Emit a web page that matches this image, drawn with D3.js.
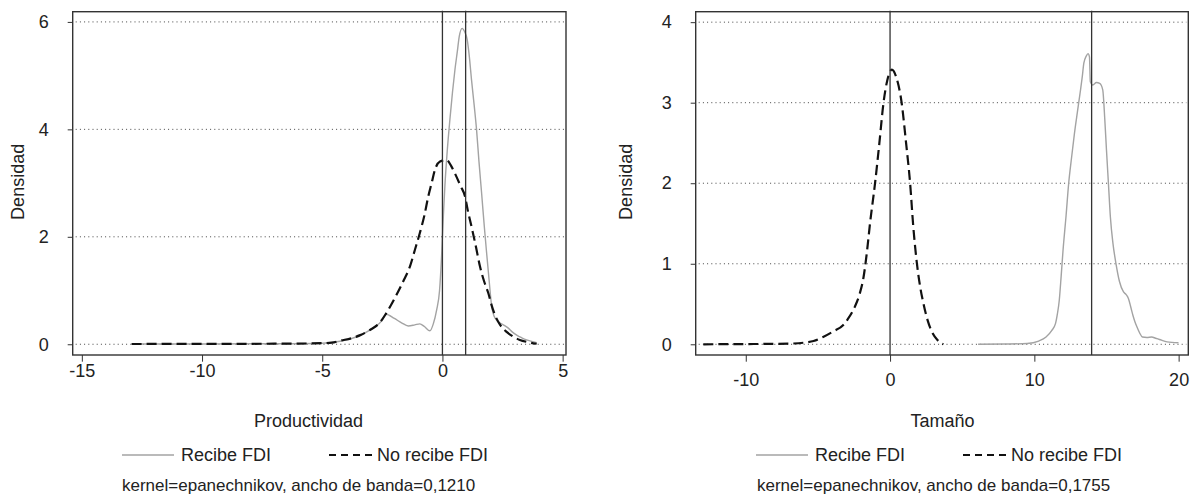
<!DOCTYPE html>
<html>
<head>
<meta charset="utf-8">
<script src="https://cdn.jsdelivr.net/npm/d3@7"></script>
<style>
  html, body { margin: 0; padding: 0; background: #fff; }
  svg { display: block; font-family: "Liberation Sans", Arial, sans-serif; }
</style>
</head>
<body>
<svg id="chart" width="1194" height="495"></svg>
<script>
// ---------------- DATA ----------------
// Panel 1: Productividad
const prodXTicks = [-15, -10, -5, 0, 5];
const prodYTicks = [0, 2, 4, 6];
const prodVLines = [0, 0.965];
const prodRecibe = [
  [-12.9,0.005],[-10,0.006],[-7,0.01],[-5,0.02],[-4.2,0.06],[-3.4,0.17],[-2.9,0.3],[-2.5,0.45],
  [-2.35,0.56],[-2.0,0.48],[-1.7,0.40],[-1.42,0.34],[-1.15,0.36],[-0.94,0.38],[-0.75,0.33],
  [-0.52,0.25],[-0.38,0.38],[-0.24,0.64],[-0.12,1.0],[-0.03,1.69],[0.04,2.4],[0.10,2.93],
  [0.2,3.6],[0.31,4.18],[0.42,4.7],[0.52,5.11],[0.62,5.45],[0.70,5.73],[0.82,5.88],[0.92,5.82],
  [1.03,5.67],[1.12,5.35],[1.21,4.92],[1.32,4.45],[1.42,3.99],[1.52,3.4],[1.63,2.81],[1.74,2.2],
  [1.84,1.69],[1.95,1.15],[2.05,0.70],[2.15,0.52],[2.32,0.42],[2.5,0.37],[2.74,0.30],[2.9,0.23],
  [3.09,0.17],[3.3,0.12],[3.50,0.08],[3.92,0.03]
];
const prodNoRecibe = [
  [-12.93,0.005],[-11,0.006],[-9,0.008],[-7,0.01],[-5.5,0.015],[-5,0.02],[-4.6,0.03],[-4.22,0.07],
  [-3.8,0.11],[-3.42,0.17],[-3.0,0.27],[-2.63,0.39],[-2.39,0.54],[-2.15,0.72],[-1.91,0.92],
  [-1.6,1.2],[-1.35,1.45],[-1.15,1.75],[-0.94,2.07],[-0.75,2.4],[-0.59,2.75],[-0.45,3.0],
  [-0.31,3.25],[-0.1,3.40],[0.17,3.43],[0.35,3.33],[0.52,3.18],[0.75,2.95],[0.94,2.75],
  [1.05,2.5],[1.21,2.19],[1.4,1.8],[1.56,1.45],[1.75,1.15],[1.91,0.95],[2.05,0.72],[2.18,0.55],
  [2.4,0.36],[2.67,0.23],[2.95,0.14],[3.22,0.08],[3.55,0.04],[3.92,0.01]
];

// Panel 2: Tamaño
const tamXTicks = [-10, 0, 10, 20];
const tamYTicks = [0, 1, 2, 3, 4];
const tamVLines = [0, 13.97];
const tamRecibe = [
  [6.1,0.0],[8,0.003],[9.5,0.01],[10.3,0.04],[10.81,0.09],[11.2,0.17],[11.47,0.26],[11.6,0.38],
  [11.73,0.55],[11.86,0.85],[11.99,1.17],[12.2,1.6],[12.38,2.0],[12.58,2.32],[12.78,2.62],
  [12.98,2.88],[13.17,3.12],[13.32,3.32],[13.43,3.49],[13.6,3.58],[13.72,3.61],[13.82,3.57],
  [13.88,3.26],[14.05,3.22],[14.3,3.25],[14.53,3.24],[14.74,3.16],[14.88,2.8],[15.0,2.41],
  [15.14,1.98],[15.27,1.58],[15.45,1.25],[15.66,1.0],[15.9,0.78],[16.18,0.65],[16.35,0.62],
  [16.52,0.57],[16.7,0.45],[16.83,0.36],[16.97,0.28],[17.10,0.22],[17.3,0.14],[17.49,0.09],
  [17.8,0.085],[18.14,0.09],[18.4,0.075],[18.67,0.06],[19.2,0.03],[19.99,0.02]
];
const tamNoRecibe = [
  [-12.94,0.0],[-11,0.002],[-9,0.004],[-7,0.008],[-5.96,0.02],[-5.3,0.04],[-4.64,0.09],
  [-3.93,0.16],[-3.24,0.24],[-2.94,0.31],[-2.43,0.47],[-2.1,0.63],[-1.85,0.82],[-1.6,1.15],
  [-1.39,1.50],[-1.04,2.0],[-0.74,2.50],[-0.46,2.99],[-0.19,3.28],[0.12,3.41],[0.46,3.30],
  [0.81,2.99],[1.11,2.50],[1.39,2.0],[1.61,1.46],[1.89,0.96],[2.1,0.7],[2.31,0.51],[2.6,0.3],
  [2.89,0.16],[3.3,0.05],[3.69,0.0]
];

const legendLabels = ["Recibe FDI", "No recibe FDI"];
const yTitle = "Densidad";
const panels = [
  { xTitle: "Productividad", note: "kernel=epanechnikov, ancho de banda=0,1210",
    xDomain: [-15.38, 5.14], yDomain: [-0.2, 6.19], xTicks: prodXTicks, yTicks: prodYTicks,
    vlines: prodVLines, recibe: prodRecibe, noRecibe: prodNoRecibe },
  { xTitle: "Tamaño", note: "kernel=epanechnikov, ancho de banda=0,1755",
    xDomain: [-13.47, 20.67], yDomain: [-0.133, 4.13], xTicks: tamXTicks, yTicks: tamYTicks,
    vlines: tamVLines, recibe: tamRecibe, noRecibe: tamNoRecibe }
];

// ---------------- LAYOUT ----------------
const layout = [
  { left: 72.7, right: 566, top: 11.7, bottom: 355, xLabelPad: 3, yTitleX: 18.3, center: 308.5, noteX: 122 },
  { left: 695.7, right: 1188.3, top: 11.7, bottom: 355, xLabelPad: 11.6, yTitleX: 626, center: 942.5, noteX: 757 }
];

const svg = d3.select("#chart");
const textColor = "#222";
const fs = 18;

panels.forEach((p, i) => {
  const L = layout[i];
  const x = d3.scaleLinear().domain(p.xDomain).range([L.left, L.right]);
  const y = d3.scaleLinear().domain(p.yDomain).range([L.bottom, L.top]);
  const g = svg.append("g");

  // gridlines
  g.selectAll("line.grid").data(p.yTicks).join("line")
    .attr("x1", L.left + 3).attr("x2", L.right - 2)
    .attr("y1", d => y(d)).attr("y2", d => y(d))
    .attr("stroke", "#444").attr("stroke-width", 1)
    .attr("stroke-dasharray", "1,3.2");

  // y axis
  const yAxis = g.append("g").attr("transform", `translate(${L.left},0)`)
    .call(d3.axisLeft(y).tickValues(p.yTicks).tickSize(5).tickPadding(19).tickFormat(d3.format("d")));
  yAxis.select(".domain").remove();
  yAxis.selectAll("line").attr("stroke", "#333");
  yAxis.selectAll("text").attr("font-size", fs).attr("fill", textColor)
    .attr("font-family", "Liberation Sans, Arial, sans-serif");

  // x axis
  const xAxis = g.append("g").attr("transform", `translate(0,${L.bottom})`)
    .call(d3.axisBottom(x).tickValues(p.xTicks).tickSize(6.7).tickPadding(L.xLabelPad).tickFormat(d3.format("d")));
  xAxis.select(".domain").remove();
  xAxis.selectAll("line").attr("stroke", "#333");
  xAxis.selectAll("text").attr("font-size", fs).attr("fill", textColor)
    .attr("font-family", "Liberation Sans, Arial, sans-serif")
    .text(d => d < 0 ? "-" + Math.abs(d) : d);

  // series
  const line = d3.line().x(d => x(d[0])).y(d => y(d[1])).curve(d3.curveMonotoneX);
  g.append("path").datum(p.recibe).attr("d", line)
    .attr("fill", "none").attr("stroke", "#a3a3a3").attr("stroke-width", 1.4);
  g.append("path").datum(p.noRecibe).attr("d", line)
    .attr("fill", "none").attr("stroke", "#111").attr("stroke-width", 2.2)
    .attr("stroke-dasharray", "10,5");

  // vertical lines
  g.selectAll("line.v").data(p.vlines).join("line")
    .attr("x1", d => x(d)).attr("x2", d => x(d))
    .attr("y1", L.top - 1).attr("y2", L.bottom)
    .attr("stroke", "#333").attr("stroke-width", 1.3);

  // box
  g.append("rect").attr("x", L.left).attr("y", L.top)
    .attr("width", L.right - L.left).attr("height", L.bottom - L.top)
    .attr("fill", "none").attr("stroke", "#333").attr("stroke-width", 1.4);

  // y title
  g.append("text").attr("transform", `translate(${L.yTitleX},${(L.top + L.bottom) / 2 - 1.5}) rotate(-90)`)
    .attr("text-anchor", "middle").attr("dominant-baseline", "central")
    .attr("font-size", fs).attr("fill", textColor).text(yTitle);

  // x title
  g.append("text").attr("x", L.center).attr("y", 421).attr("text-anchor", "middle")
    .attr("dominant-baseline", "central").attr("font-size", fs).attr("fill", textColor).text(p.xTitle);

  // legend
  const ly = 455;
  const lg = g.append("g");
  const c = L.center;
  lg.append("line").attr("x1", c - 186.5).attr("x2", c - 134.5).attr("y1", ly).attr("y2", ly)
    .attr("stroke", "#a3a3a3").attr("stroke-width", 1.4);
  lg.append("text").attr("x", c - 127.5).attr("y", ly).attr("dominant-baseline", "central")
    .attr("font-size", fs).attr("fill", textColor).text(legendLabels[0]);
  lg.append("line").attr("x1", c + 20.5).attr("x2", c + 63.5).attr("y1", ly).attr("y2", ly)
    .attr("stroke", "#111").attr("stroke-width", 1.8).attr("stroke-dasharray", "7,5");
  lg.append("text").attr("x", c + 68.5).attr("y", ly).attr("dominant-baseline", "central")
    .attr("font-size", fs).attr("fill", textColor).text(legendLabels[1]);

  // note
  g.append("text").attr("x", L.noteX).attr("y", 485.5).attr("text-anchor", "start")
    .attr("dominant-baseline", "central").attr("font-size", 17).attr("fill", textColor).text(p.note);
});
</script>
</body>
</html>
